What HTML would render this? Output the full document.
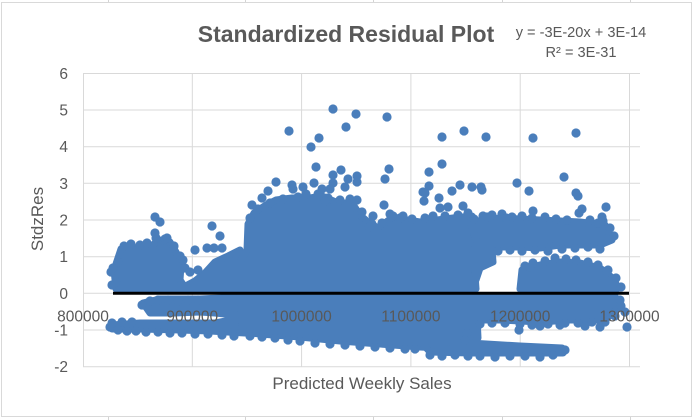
<!DOCTYPE html>
<html>
<head>
<meta charset="utf-8">
<style>
  html,body{margin:0;padding:0;background:#fff;}
  svg{display:block;}
  text{font-family:"Liberation Sans",Arial,sans-serif;fill:#595959;}
</style>
</head>
<body>
<svg width="695" height="420" viewBox="0 0 695 420" xmlns="http://www.w3.org/2000/svg">
  <rect x="0" y="0" width="695" height="420" fill="#fff"/>
  <g stroke="#d4d4d4" stroke-width="1">
    <line x1="108.5" y1="0" x2="108.5" y2="2"/>
    <line x1="245.5" y1="0" x2="245.5" y2="2"/>
    <line x1="373.5" y1="0" x2="373.5" y2="2"/>
    <line x1="502.5" y1="0" x2="502.5" y2="2"/>
    <line x1="630.5" y1="0" x2="630.5" y2="2"/>
    <line x1="108.5" y1="417" x2="108.5" y2="420"/>
    <line x1="245.5" y1="417" x2="245.5" y2="420"/>
    <line x1="373.5" y1="417" x2="373.5" y2="420"/>
    <line x1="502.5" y1="417" x2="502.5" y2="420"/>
    <line x1="630.5" y1="417" x2="630.5" y2="420"/>
  </g>
  <rect x="1.5" y="2.5" width="690" height="414" fill="#fff" stroke="#d9d9d9" stroke-width="1"/>

  <g stroke="#d9d9d9" stroke-width="1">
    <line x1="83" y1="73.5" x2="640" y2="73.5"/>
    <line x1="83" y1="110" x2="640" y2="110"/>
    <line x1="83" y1="146.7" x2="640" y2="146.7"/>
    <line x1="83" y1="183.3" x2="640" y2="183.3"/>
    <line x1="83" y1="220" x2="640" y2="220"/>
    <line x1="83" y1="256.7" x2="640" y2="256.7"/>
    <line x1="83" y1="293.3" x2="640" y2="293.3"/>
    <line x1="83" y1="330" x2="640" y2="330"/>
    <line x1="83" y1="366.7" x2="640" y2="366.7"/>
    <line x1="83.5" y1="73" x2="83.5" y2="367"/>
    <line x1="192.3" y1="73" x2="192.3" y2="367"/>
    <line x1="301.6" y1="73" x2="301.6" y2="367"/>
    <line x1="410.9" y1="73" x2="410.9" y2="367"/>
    <line x1="520.2" y1="73" x2="520.2" y2="367"/>
    <line x1="629.5" y1="73" x2="629.5" y2="367"/>
  </g>

  <g fill="#4a7ebb" stroke="#4a7ebb" stroke-width="7" stroke-linejoin="round">
    <path d="M116,289 L114,270 L118,258 L121,249 L135,248 L150,247 L159,240 L170,242 L176,252 L181,265 L180,280 L186,289 Z"/>
    <path d="M180,289 L195,281 L205,273 L215,262 L228,256 L240,250 L247,289 Z"/>
    <path d="M240,289 L240,262 L247,250 L248,224 L254,213 L266,205 L276,200 L292,198 L310,198 L322,196 L338,203 L352,203 L360,215 L368,222 L378,228 L393,217 L407,220 L420,222 L437,220 L453,218 L472,216 L475,240 L474,260 L476,289 Z"/>
    <path d="M143,303 L160,299 L200,299 L243,297 L245,316 L215,313 L200,312 L175,313 L150,313 Z"/>
    <path d="M112,325 L140,323 L180,323 L215,323 L240,318 L245,333 L210,331 L180,330 L140,329 L112,329 Z"/>
    <path d="M240,296 L476,296 L478,338 L470,345 L440,348 L420,347 L380,344 L340,341 L300,337 L260,334 L243,332 Z"/>
    <path d="M420,341 L470,343 L520,346 L562,348 L563,353 L520,353 L470,353 L430,352 Z"/>
    <path d="M476,296 L615,296 L618,308 L605,320 L570,320 L540,322 L500,320 L476,320 Z"/>
    <path d="M470,222 L500,218 L540,220 L580,222 L605,225 L612,240 L600,245 L560,245 L540,248 L520,247 L495,247 L480,250 Z"/>
    <path d="M520,289 L522,270 L540,265 L560,262 L580,263 L600,268 L615,280 L617,289 Z"/>
    <path d="M473,250 L492,250 L493,262 L480,268 L476,280 Z"/>
  </g>

  <g fill="#4a7ebb">
    <!-- edge scallops -->
    <circle cx="250" cy="218" r="4.6"/><circle cx="258" cy="209" r="4.6"/><circle cx="270" cy="203" r="4.6"/><circle cx="283" cy="199" r="4.6"/>
    <circle cx="298" cy="197" r="4.6"/><circle cx="306" cy="194" r="4.6"/><circle cx="318" cy="194" r="4.6"/><circle cx="328" cy="198" r="4.6"/>
    <circle cx="340" cy="200" r="4.6"/><circle cx="350" cy="199" r="4.6"/><circle cx="362" cy="212" r="4.6"/><circle cx="372" cy="224" r="4.6"/>
    <circle cx="382" cy="223" r="4.6"/><circle cx="390" cy="214" r="4.6"/><circle cx="400" cy="218" r="4.6"/><circle cx="412" cy="219" r="4.6"/>
    <circle cx="425" cy="218" r="4.6"/><circle cx="433" cy="216" r="4.6"/><circle cx="445" cy="216" r="4.6"/><circle cx="458" cy="215" r="4.6"/>
    <circle cx="468" cy="213" r="4.6"/>
    <circle cx="124" cy="246" r="4.6"/><circle cx="131" cy="244" r="4.6"/><circle cx="140" cy="245" r="4.6"/><circle cx="147" cy="243" r="4.6"/>
    <circle cx="156" cy="238" r="4.6"/><circle cx="165" cy="239" r="4.6"/><circle cx="174" cy="246" r="4.6"/><circle cx="180" cy="256" r="4.6"/>
    <circle cx="185" cy="268" r="4.6"/><circle cx="111" cy="272" r="4.6"/><circle cx="112" cy="285" r="4.6"/><circle cx="118" cy="262" r="4.6"/>
    <circle cx="474" cy="219" r="4.6"/><circle cx="483" cy="216" r="4.6"/><circle cx="492" cy="215" r="4.6"/><circle cx="502" cy="214" r="4.6"/>
    <circle cx="512" cy="217" r="4.6"/><circle cx="522" cy="216" r="4.6"/><circle cx="532" cy="218" r="4.6"/><circle cx="545" cy="217" r="4.6"/>
    <circle cx="556" cy="219" r="4.6"/><circle cx="567" cy="220" r="4.6"/><circle cx="590" cy="220" r="4.6"/><circle cx="598" cy="223" r="4.6"/>
    <circle cx="610" cy="228" r="4.6"/><circle cx="614" cy="236" r="4.6"/>
    <circle cx="600" cy="249" r="4.6"/><circle cx="588" cy="247" r="4.6"/><circle cx="575" cy="248" r="4.6"/><circle cx="562" cy="249" r="4.6"/>
    <circle cx="548" cy="251" r="4.6"/><circle cx="535" cy="250" r="4.6"/><circle cx="522" cy="251" r="4.6"/><circle cx="510" cy="250" r="4.6"/>
    <circle cx="498" cy="251" r="4.6"/>
    <circle cx="525" cy="266" r="4.6"/><circle cx="533" cy="263" r="4.6"/><circle cx="545" cy="261" r="4.6"/><circle cx="555" cy="258" r="4.6"/>
    <circle cx="566" cy="259" r="4.6"/><circle cx="576" cy="260" r="4.6"/><circle cx="588" cy="262" r="4.6"/><circle cx="598" cy="265" r="4.6"/>
    <circle cx="608" cy="270" r="4.6"/><circle cx="616" cy="278" r="4.6"/><circle cx="621" cy="287" r="4.6"/>
    <circle cx="480" cy="324" r="4.6"/><circle cx="492" cy="323" r="4.6"/><circle cx="505" cy="323" r="4.6"/><circle cx="520" cy="324" r="4.6"/>
    <circle cx="532" cy="325" r="4.6"/><circle cx="548" cy="324" r="4.6"/><circle cx="565" cy="323" r="4.6"/><circle cx="578" cy="323" r="4.6"/>
    <circle cx="592" cy="322" r="4.6"/><circle cx="605" cy="322" r="4.6"/><circle cx="615" cy="316" r="4.6"/><circle cx="621" cy="306" r="4.6"/>
    <circle cx="430" cy="355" r="4.6"/><circle cx="442" cy="356" r="4.6"/><circle cx="455" cy="355" r="4.6"/><circle cx="468" cy="356" r="4.6"/>
    <circle cx="480" cy="356" r="4.6"/><circle cx="495" cy="357" r="4.6"/><circle cx="510" cy="356" r="4.6"/><circle cx="525" cy="356" r="4.6"/>
    <circle cx="540" cy="357" r="4.6"/><circle cx="553" cy="355" r="4.6"/><circle cx="565" cy="350" r="4.6"/><circle cx="415" cy="349" r="4.6"/>
    <circle cx="250" cy="336" r="4.6"/><circle cx="262" cy="337" r="4.6"/><circle cx="275" cy="338" r="4.6"/><circle cx="288" cy="340" r="4.6"/>
    <circle cx="300" cy="341" r="4.6"/><circle cx="315" cy="343" r="4.6"/><circle cx="330" cy="344" r="4.6"/><circle cx="345" cy="345" r="4.6"/>
    <circle cx="360" cy="346" r="4.6"/><circle cx="375" cy="347" r="4.6"/><circle cx="390" cy="348" r="4.6"/><circle cx="405" cy="349" r="4.6"/>
    <circle cx="110" cy="327" r="4.6"/><circle cx="118" cy="330" r="4.6"/><circle cx="127" cy="331" r="4.6"/><circle cx="136" cy="331" r="4.6"/>
    <circle cx="146" cy="332" r="4.6"/><circle cx="158" cy="332" r="4.6"/><circle cx="170" cy="333" r="4.6"/><circle cx="182" cy="333" r="4.6"/>
    <circle cx="195" cy="334" r="4.6"/><circle cx="208" cy="334" r="4.6"/><circle cx="222" cy="335" r="4.6"/><circle cx="234" cy="336" r="4.6"/>
    <circle cx="112" cy="323" r="4.6"/><circle cx="122" cy="322" r="4.6"/><circle cx="132" cy="322" r="4.6"/>
    <circle cx="142" cy="305" r="4.6"/><circle cx="150" cy="301" r="4.6"/><circle cx="158" cy="300" r="4.6"/><circle cx="168" cy="300" r="4.6"/>
    <circle cx="178" cy="301" r="4.6"/><circle cx="188" cy="300" r="4.6"/><circle cx="198" cy="300" r="4.6"/>
    <!-- outliers -->
    <circle cx="155" cy="217" r="4.6"/><circle cx="160" cy="222" r="4.6"/><circle cx="155" cy="233" r="4.6"/><circle cx="167" cy="238" r="4.6"/>
    <circle cx="212" cy="226" r="4.6"/><circle cx="220" cy="236" r="4.6"/><circle cx="195" cy="250" r="4.6"/><circle cx="207" cy="248" r="4.6"/>
    <circle cx="214" cy="248" r="4.6"/><circle cx="222" cy="248" r="4.6"/><circle cx="183" cy="260" r="4.6"/><circle cx="198" cy="270" r="4.6"/>
    <circle cx="190" cy="272" r="4.6"/><circle cx="113" cy="268" r="4.6"/><circle cx="116" cy="282" r="4.6"/>
    <circle cx="333" cy="109" r="4.6"/><circle cx="356" cy="114" r="4.6"/><circle cx="346" cy="127" r="4.6"/><circle cx="387" cy="117" r="4.6"/>
    <circle cx="289" cy="131" r="4.6"/><circle cx="319" cy="138" r="4.6"/><circle cx="311" cy="147" r="4.6"/><circle cx="442" cy="137" r="4.6"/>
    <circle cx="442" cy="164" r="4.6"/><circle cx="316" cy="167" r="4.6"/><circle cx="341" cy="170" r="4.6"/><circle cx="389" cy="169" r="4.6"/>
    <circle cx="385" cy="179" r="4.6"/><circle cx="429" cy="172" r="4.6"/><circle cx="429" cy="186" r="4.6"/><circle cx="276" cy="182" r="4.6"/>
    <circle cx="268" cy="191" r="4.6"/><circle cx="292" cy="185" r="4.6"/><circle cx="293" cy="189" r="4.6"/><circle cx="303" cy="187" r="4.6"/>
    <circle cx="314" cy="183" r="4.6"/><circle cx="333" cy="175" r="4.6"/><circle cx="333" cy="183" r="4.6"/><circle cx="348" cy="179" r="4.6"/>
    <circle cx="357" cy="176" r="4.6"/><circle cx="357" cy="182" r="4.6"/><circle cx="345" cy="187" r="4.6"/><circle cx="322" cy="189" r="4.6"/>
    <circle cx="330" cy="189" r="4.6"/><circle cx="452" cy="191" r="4.6"/><circle cx="423" cy="192" r="4.6"/><circle cx="424" cy="201" r="4.6"/>
    <circle cx="384" cy="205" r="4.6"/><circle cx="357" cy="200" r="4.6"/><circle cx="325" cy="201" r="4.6"/><circle cx="373" cy="216" r="4.6"/>
    <circle cx="369" cy="227" r="4.6"/><circle cx="393" cy="216" r="4.6"/><circle cx="403" cy="216" r="4.6"/><circle cx="439" cy="198" r="4.6"/>
    <circle cx="440" cy="208" r="4.6"/><circle cx="448" cy="207" r="4.6"/><circle cx="460" cy="185" r="4.6"/><circle cx="464" cy="131" r="4.6"/>
    <circle cx="486" cy="137" r="4.6"/><circle cx="533" cy="138" r="4.6"/><circle cx="576" cy="133" r="4.6"/><circle cx="564" cy="177" r="4.6"/>
    <circle cx="576" cy="193" r="4.6"/><circle cx="578" cy="196" r="4.6"/><circle cx="582" cy="209" r="4.6"/><circle cx="579" cy="213" r="4.6"/>
    <circle cx="606" cy="207" r="4.6"/><circle cx="602" cy="217" r="4.6"/><circle cx="603" cy="221" r="4.6"/><circle cx="487" cy="217" r="4.6"/>
    <circle cx="506" cy="218" r="4.6"/><circle cx="517" cy="183" r="4.6"/><circle cx="529" cy="191" r="4.6"/><circle cx="533" cy="211" r="4.6"/>
    <circle cx="463" cy="206" r="4.6"/><circle cx="472" cy="187" r="4.6"/><circle cx="481" cy="187" r="4.6"/><circle cx="482" cy="190" r="4.6"/>
    <circle cx="425" cy="193" r="4.6"/><circle cx="607" cy="272" r="4.6"/><circle cx="252" cy="205" r="4.6"/><circle cx="262" cy="198" r="4.6"/>
    <circle cx="627" cy="327" r="4.6"/><circle cx="625" cy="312" r="4.6"/><circle cx="519" cy="330" r="4.6"/><circle cx="600" cy="327" r="4.6"/>
    <circle cx="585" cy="326" r="4.6"/><circle cx="560" cy="325" r="4.6"/><circle cx="540" cy="326" r="4.6"/><circle cx="620" cy="300" r="4.6"/>
    <circle cx="467" cy="333" r="4.6"/><circle cx="465" cy="340" r="4.6"/>
  </g>

  <line x1="113" y1="293.3" x2="629" y2="293.3" stroke="#000" stroke-width="3"/>

  <g font-size="15.5" text-anchor="end">
    <text x="68" y="79">6</text>
    <text x="68" y="115.5">5</text>
    <text x="68" y="152.2">4</text>
    <text x="68" y="188.8">3</text>
    <text x="68" y="225.5">2</text>
    <text x="68" y="262.2">1</text>
    <text x="68" y="298.8">0</text>
    <text x="68" y="335.5">-1</text>
    <text x="68" y="372.2">-2</text>
  </g>
  <g font-size="15.5" text-anchor="middle">
    <text x="83" y="321.5">800000</text>
    <text x="192.3" y="321.5">900000</text>
    <text x="301.6" y="321.5">1000000</text>
    <text x="410.9" y="321.5">1100000</text>
    <text x="520.2" y="321.5">1200000</text>
    <text x="629.5" y="321.5">1300000</text>
  </g>

  <text x="346" y="42" font-size="23" font-weight="bold" text-anchor="middle">Standardized Residual Plot</text>
  <text x="581" y="37" font-size="14.6" text-anchor="middle">y = -3E-20x + 3E-14</text>
  <text x="581" y="57" font-size="14.6" text-anchor="middle">R² = 3E-31</text>
  <text x="362" y="389" font-size="17" text-anchor="middle">Predicted Weekly Sales</text>
  <text x="0" y="0" font-size="17" text-anchor="middle" transform="translate(43,219) rotate(-90)">StdzRes</text>
</svg>
</body>
</html>
